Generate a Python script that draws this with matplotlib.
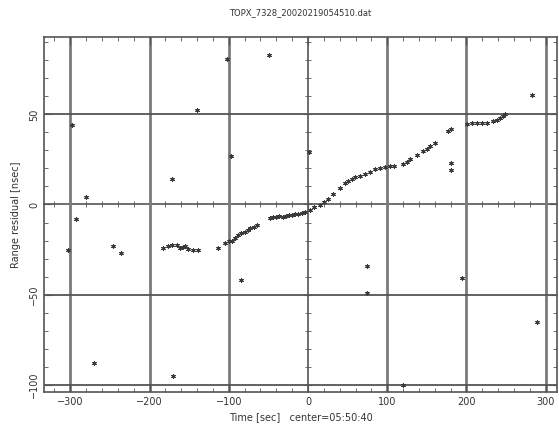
import numpy as np
import matplotlib
matplotlib.use("Agg")
import matplotlib.pyplot as plt
from matplotlib.ticker import MultipleLocator

title = "TOPX_7328_20020219054510.dat"

# main residual track (time [sec], residual [nsec])
track_t = [-183, -177, -172, -165, -162, -158, -155, -151, -145, -139,
           -114, -105, -100, -96, -92, -88, -84, -80, -76, -73, -68, -64,
           -48, -44, -40, -36, -32, -28, -24, -20, -16, -12, -8, -4,
           2, 8, 15, 20, 25, 32, 40, 47, 50, 55, 59, 66, 72, 78, 85, 91,
           97, 103, 108, 120, 125, 129, 137, 145, 150, 154, 160,
           177, 180, 201, 207, 213, 220, 226, 234, 238, 242, 246, 249]
track_r = [-24, -23, -22.5, -22.6, -24, -23.5, -23, -24.5, -25, -25,
           -24, -21.5, -20.5, -20, -18.5, -17, -16, -15.5, -14, -13, -12.5, -11.6,
           -7.5, -7, -7, -6.5, -7, -6.5, -6, -6, -5.5, -5.5, -5, -4,
           -3.3, -1.5, -0.5, 1.5, 3.3, 6, 9, 12, 13, 14, 15, 16, 17, 18, 19.5, 20.5,
           21, 21.5, 21.5, 22.6, 23.5, 25.4, 27.6, 29.8, 31, 32.6, 34,
           41, 42, 44.8, 45, 45.3, 45.3, 45.3, 46.4, 47, 48, 49, 50]

# isolated outliers
out_t = [-303, -298, -293, -280, -270, -246, -236, -172, -170, -140, -102,
         -97, -85, -49, 1, 74, 74, 120, 180, 180, 194, 283, 289]
out_r = [-25, 44, -8, 4, -88, -23, -27, 14, -95, 52.5, 81,
         27, -42, 83, 29, -34, -49, -100, 23, 19, -41, 61, -65]

x_major = [-300, -200, -100, 0, 100, 200, 300]
y_major = [-100, -50, 0, 50]
xlim = (-333, 314)
ylim = (-104, 93)

fig = plt.figure(figsize=(5.59, 4.34), dpi=100)
pos = [0.079, 0.097, 0.917, 0.818]

# axes carrying ticks along the zero lines
ax0 = fig.add_axes(pos, zorder=0)
ax0.set_xlim(*xlim)
ax0.set_ylim(*ylim)
for s in ['top', 'right']:
    ax0.spines[s].set_visible(False)
ax0.spines['left'].set_position(('data', 0))
ax0.spines['bottom'].set_position(('data', 0))
for s in ['left', 'bottom']:
    ax0.spines[s].set_color('#555555')
    ax0.spines[s].set_linewidth(1.2)
ax0.xaxis.set_major_locator(MultipleLocator(100))
ax0.xaxis.set_minor_locator(MultipleLocator(20))
ax0.yaxis.set_major_locator(MultipleLocator(50))
ax0.yaxis.set_minor_locator(MultipleLocator(10))
ax0.tick_params(which='both', direction='inout', labelbottom=False,
                labelleft=False, color='#555555')
ax0.tick_params(which='major', length=6)
ax0.tick_params(which='minor', length=4)

ax = fig.add_axes(pos, zorder=1)
ax.patch.set_alpha(0)
ax.set_xlim(*xlim)
ax.set_ylim(*ylim)

for xv in x_major:
    if xv != 0:
        ax.axvline(xv, color='#7a7a7a', lw=2.0, zorder=1)
for yv in y_major:
    if yv != 0:
        ax.axhline(yv, color='#555555', lw=1.3, zorder=1)

ax.scatter(track_t, track_r, s=7, marker=(6, 2, 0), color='#3a3a3a',
           linewidths=0.8, zorder=3)
ax.scatter(out_t, out_r, s=7, marker=(6, 2, 0), color='#3a3a3a',
           linewidths=0.8, zorder=3)

ax.set_xticks(x_major)
ax.set_yticks(y_major)
ax.xaxis.set_minor_locator(MultipleLocator(20))
ax.yaxis.set_minor_locator(MultipleLocator(10))
ax.tick_params(which='both', direction='in', top=True, right=True,
               color='#555555', labelsize=7, labelcolor='#333333')
ax.tick_params(which='major', length=6)
ax.tick_params(which='minor', length=3)
for lab in ax.get_yticklabels():
    lab.set_rotation(90)
    lab.set_va('center')
for s in ax.spines.values():
    s.set_color('#555555')
    s.set_linewidth(1.2)

ax.set_xlabel("Time [sec]   center=05:50:40", fontsize=7, color='#333333')
ax.set_ylabel("Range residual [nsec]", fontsize=7, color='#333333', labelpad=6)
ax.set_title(title, fontsize=6, color='#333333', pad=16)

fig.savefig("out.png", dpi=100)
